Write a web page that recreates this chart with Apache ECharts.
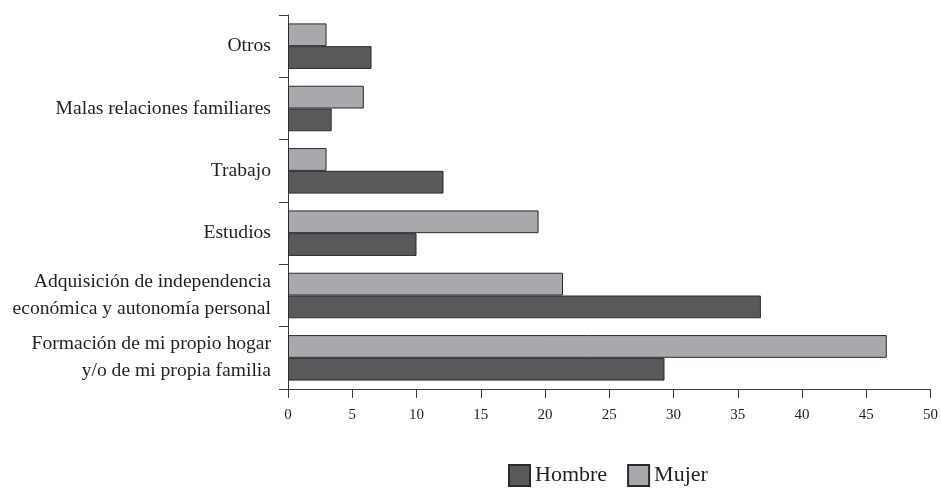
<!DOCTYPE html>
<html><head><meta charset="utf-8">
<script src="https://cdn.jsdelivr.net/npm/echarts@6/dist/echarts.min.js"></script>
<style>html,body{margin:0;padding:0;background:#fff}#c{width:941px;height:493px}</style>
</head><body><div id="c"></div>
<script>
const categories = [
  "Formación de mi propio hogar\ny/o de mi propia familia",
  "Adquisición de independencia\neconómica y autonomía personal",
  "Estudios",
  "Trabajo",
  "Malas relaciones familiares",
  "Otros"
];
const hombre = [29.3, 36.8, 10.0, 12.1, 3.4, 6.5];
const mujer  = [46.6, 21.4, 19.5, 3.0, 5.9, 3.0];
const xTicks = [0, 50, 5];

const FONT = "'Liberation Serif', serif";
const TXT = '#231f20';
const chart = echarts.init(document.getElementById('c'));
chart.setOption({
  animation: false,
  backgroundColor: '#fff',
  grid: { left: 288, right: 9, top: 15, bottom: 104, containLabel: false },
  legend: {
    bottom: 1, left: 503,
    itemWidth: 21, itemHeight: 21, itemGap: 20,
    textStyle: { fontFamily: FONT, fontSize: 22, color: TXT },
    data: [
      { name: 'Hombre', icon: 'rect' },
      { name: 'Mujer', icon: 'rect' }
    ]
  },
  xAxis: {
    type: 'value', min: xTicks[0], max: xTicks[1], interval: xTicks[2],
    axisLine: { show: true, lineStyle: { color: '#3a3a3a', width: 1 } },
    axisTick: { show: true, length: 9, lineStyle: { color: '#3a3a3a' } },
    axisLabel: { fontFamily: FONT, fontSize: 15, color: TXT, margin: 19 },
    splitLine: { show: false }
  },
  yAxis: {
    type: 'category', data: categories,
    axisLine: { show: true, lineStyle: { color: '#3a3a3a', width: 1 } },
    axisTick: { show: true, length: 9, lineStyle: { color: '#3a3a3a' } },
    axisLabel: { fontFamily: FONT, fontSize: 19.6, color: TXT, margin: 17, lineHeight: 27, align: 'right' }
  },
  series: [
    { name: 'Mujer', type: 'bar', data: mujer, barGap: '0%', barCategoryGap: '27%',
      itemStyle: { color: '#a7a9ac', borderColor: '#2a2a2a', borderWidth: 1 } },
    { name: 'Hombre', type: 'bar', data: hombre, barGap: '0%', barCategoryGap: '27%',
      itemStyle: { color: '#58595b', borderColor: '#2a2a2a', borderWidth: 1 } }
  ]
});
</script></body></html>
